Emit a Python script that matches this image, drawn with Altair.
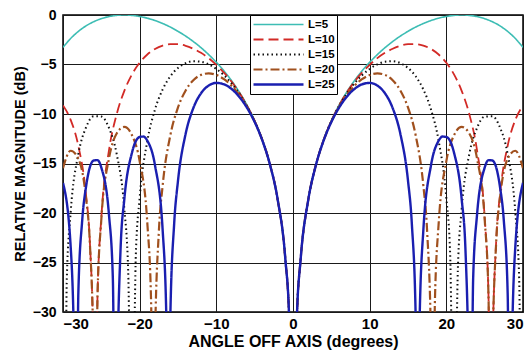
import altair as alt
import pandas as pd

# Angles (deg, positive half; pattern is symmetric) and relative magnitudes (dB)
ang_L5 = [0, 0.5, 1, 2, 3, 4, 5, 6, 7, 8, 9, 10, 11, 12, 13, 14, 15, 16, 17, 18, 19, 20,
          21, 22, 23, 24, 25, 26, 27, 28, 29, 30]
db_L5 = [-60, -30.67, -24.65, -18.63, -15.11, -12.62, -10.69, -9.11, -7.79, -6.65, -5.65, -4.78,
         -4.00, -3.30, -2.68, -2.13, -1.65, -1.22, -0.86, -0.56, -0.32, -0.15,
         -0.04, 0.00, -0.04, -0.16, -0.37, -0.68, -1.10, -1.66, -2.37, -3.27]

ang_L10 = [0, 0.5, 1, 2, 3, 4, 5, 6, 7, 8, 9, 10, 11, 12, 13, 14, 15, 16, 17, 18, 19, 20,
           21, 22, 23, 24, 25, 25.5, 25.84, 26, 26.5, 27, 28, 29, 30]
db_L10 = [-60, -30.67, -24.65, -18.63, -15.11, -12.62, -10.70, -9.15, -7.85, -6.75, -5.82, -5.03,
          -4.36, -3.82, -3.41, -3.11, -2.95, -2.94, -3.09, -3.43, -3.99, -4.82,
          -6.00, -7.66, -10.03, -13.66, -20.46, -28.35, -60, -35.13, -22.87, -18.13, -13.21, -10.59, -9.14]

ang_L15 = [0, 0.5, 1, 2, 3, 4, 5, 6, 7, 8, 9, 10, 11, 12, 13, 14, 15, 16, 17, 18, 19, 20,
           20.5, 21, 21.5, 22, 23, 24, 25, 26, 27, 28, 29, 29.5, 29.93, 30]
db_L15 = [-60, -30.67, -24.65, -18.63, -15.12, -12.63, -10.73, -9.20, -7.95, -6.92, -6.09, -5.45,
          -4.99, -4.72, -4.67, -4.86, -5.35, -6.19, -7.52, -9.54, -12.73, -18.48,
          -24.20, -46.95, -25.79, -19.60, -14.03, -11.41, -10.26, -10.23, -11.36, -14.06, -19.93,
          -26.59, -60, -41.88]

ang_L20 = [0, 0.5, 1, 2, 3, 4, 5, 6, 7, 8, 9, 10, 11, 12, 13, 14, 15, 16, 17, 17.5, 18, 18.19,
           18.5, 19, 20, 21, 22, 23, 24, 25, 25.5, 25.84, 26, 26.5, 27, 28, 29, 30]
db_L20 = [-60, -30.67, -24.65, -18.63, -15.12, -12.65, -10.76, -9.27, -8.09, -7.16, -6.48, -6.06,
          -5.90, -6.05, -6.59, -7.62, -9.34, -12.15, -17.21, -21.91, -33.01, -60,
          -29.25, -21.05, -14.77, -12.14, -11.31, -11.97, -14.48, -20.63, -28.37, -60, -35.13,
          -22.98, -18.48, -14.52, -13.71, -15.47]

ang_L25 = [0, 0.5, 1, 2, 3, 4, 5, 6, 7, 8, 9, 10, 11, 12, 13, 14, 15, 15.5, 16, 16.26, 16.5,
           17, 18, 19, 19.5, 20, 21, 22, 22.5, 23, 23.07, 23.5, 24, 25, 25.5, 26, 27, 27.5, 28,
           28.36, 28.5, 29, 30]
db_L25 = [-60, -30.67, -24.65, -18.63, -15.13, -12.67, -10.81, -9.37, -8.27, -7.48, -7.00, -6.86,
          -7.13, -7.91, -9.40, -11.99, -16.74, -21.08, -30.44, -60, -31.28,
          -21.75, -15.18, -12.70, -12.28, -12.32, -13.90, -18.60, -23.82, -41.59, -60, -26.56,
          -20.22, -15.42, -14.66, -14.70, -17.37, -20.79, -28.11, -60, -36.13, -23.39, -16.96]

series_names = ["L=5", "L=10", "L=15", "L=20", "L=25"]
series_angles = [ang_L5, ang_L10, ang_L15, ang_L20, ang_L25]
series_db = [db_L5, db_L10, db_L15, db_L20, db_L25]

colors = ["#3dbdb4", "#d22a26", "#111111", "#a0501e", "#1a1fb0"]
dashes = [[1, 0], [10, 5], [1.5, 3], [9, 3, 2, 3], [1, 0]]
widths = [1.6, 2.4, 1.6, 2.4, 2.6]

rows = []
for order, (name, angs, dbs) in enumerate(zip(series_names, series_angles, series_db)):
    for a, d in zip(angs, dbs):
        rows.append({"series": name, "angle": a, "db": d, "o": order})
        if a > 0:
            rows.append({"series": name, "angle": -a, "db": d, "o": order})
df = pd.DataFrame(rows).sort_values(["o", "angle"])

FONT = "Liberation Sans"

legend_opts = dict(title=None, orient="none", legendX=187, legendY=0,
                   symbolType="stroke", symbolSize=2500, symbolStrokeWidth=2,
                   clipHeight=15, rowPadding=0, padding=2, labelOffset=3,
                   fillColor="white", strokeColor="black",
                   labelFont=FONT, labelFontWeight="bold", labelFontSize=11.5,
                   labelColor="black")

chart = alt.Chart(df).mark_line(clip=True, interpolate="monotone").encode(
    x=alt.X("angle:Q", scale=alt.Scale(domain=[-30, 30], nice=False),
            axis=alt.Axis(values=[-30, -20, -10, 0, 10, 20, 30], title="ANGLE OFF AXIS (degrees)",
                          labelPadding=4, titlePadding=2, titleFontSize=16, labelFontSize=15)),
    y=alt.Y("db:Q", scale=alt.Scale(domain=[-30, 0], nice=False),
            axis=alt.Axis(values=[-30, -25, -20, -15, -10, -5, 0], title="RELATIVE MAGNITUDE (dB)",
                          labelPadding=7, titlePadding=5, titleFontSize=14.5, labelFontSize=14)),
    color=alt.Color("series:N", scale=alt.Scale(domain=series_names, range=colors),
                    legend=alt.Legend(**legend_opts)),
    strokeDash=alt.StrokeDash("series:N", scale=alt.Scale(domain=series_names, range=dashes),
                              legend=alt.Legend(**legend_opts)),
    strokeWidth=alt.StrokeWidth("series:N", scale=alt.Scale(domain=series_names, range=widths),
                                legend=None),
    detail="series:N",
    order=alt.Order("angle:Q"),
).properties(
    width=460, height=297,
    autosize=alt.AutoSizeParams(type="none"),
    padding={"left": 55, "top": 7, "right": 1, "bottom": 39},
).configure_view(
    stroke="black", strokeWidth=1.5
).configure_axis(
    labelFont=FONT, labelFontWeight="bold", labelColor="black",
    titleFont=FONT, titleFontWeight="bold", titleColor="black",
    grid=True, gridColor="#1a1a1a", gridWidth=1, gridOpacity=1,
    domain=False, ticks=False,
)

chart.save("out.html", embed_options={"renderer": "svg", "actions": False})
